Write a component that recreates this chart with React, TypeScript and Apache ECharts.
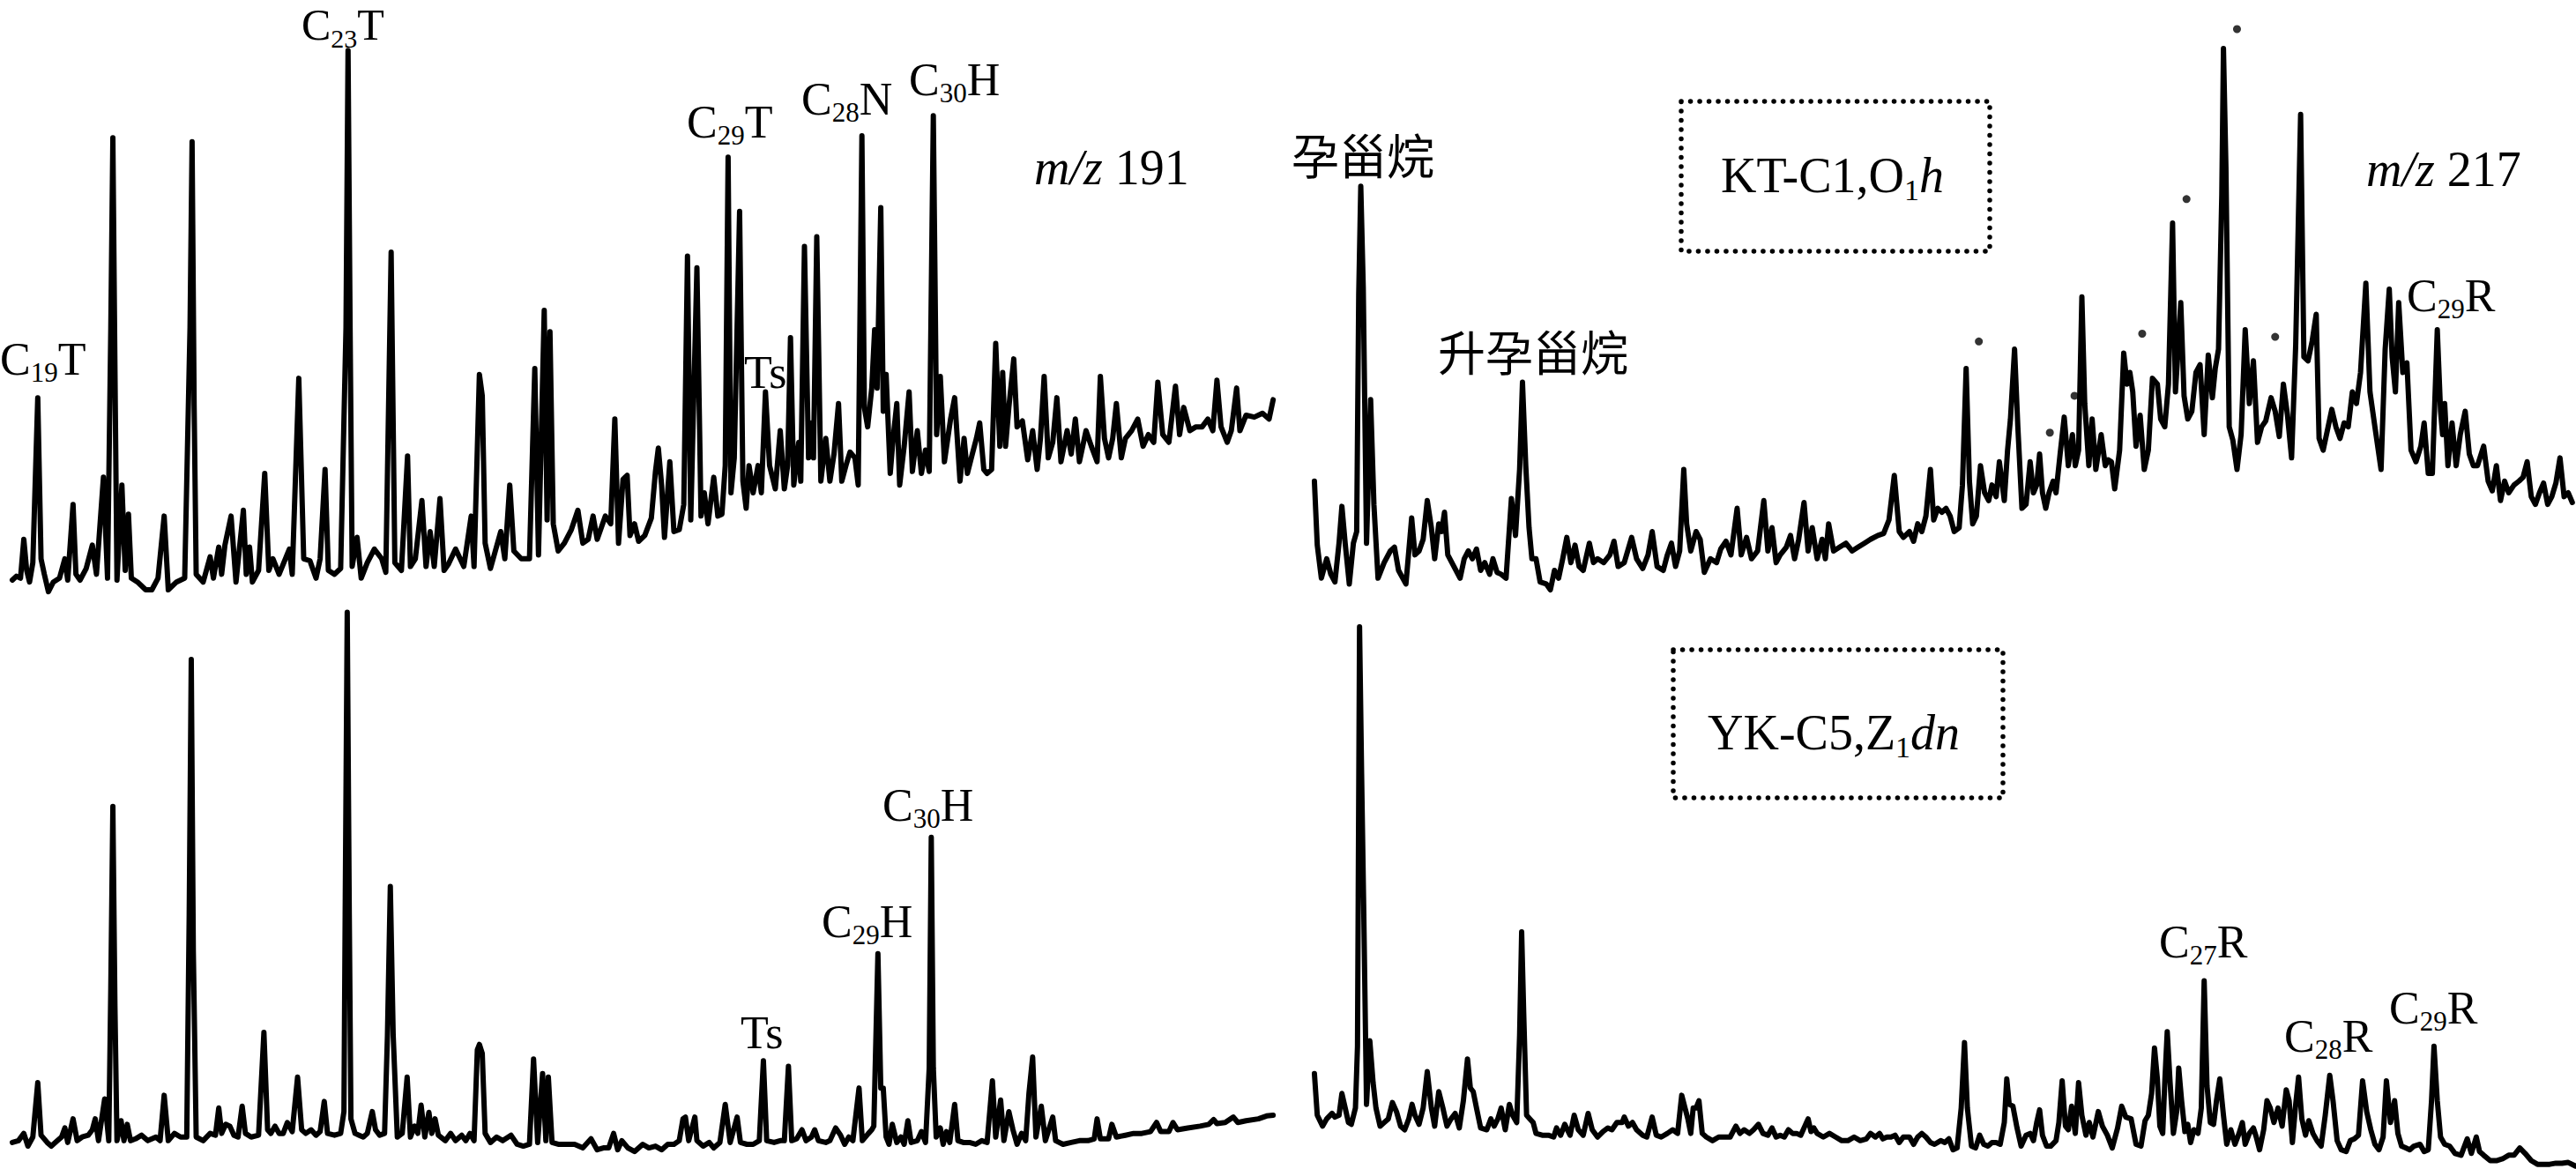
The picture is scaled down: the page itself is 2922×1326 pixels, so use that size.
import React, { useEffect, useRef } from "react";
import * as echarts from "echarts";

// m/z 191, sample KT-C1 (O1h): [retention, abundance]
const ktM191: number[][] = [
  [30,50],[40,60],[50,55],[58,155],[65,75],[72,45],[80,95],[92,520],[100,105],[108,65],[118,20],[130,45],[145,55],[158,105],[165,50],[178,245],[185,65],[195,50],[210,80],[225,140],[235,65],[252,315],[262,55],[270,700],[275,1190],[280,600],[285,50],[297,295],[305,75],[313,220],[320,55],[335,45],[355,25],[370,25],[385,55],[400,215],[410,25],[430,45],[450,55],[463,700],[468,1180],[473,500],[478,65],[495,45],[512,110],[520,55],[533,135],[540,65],[548,140],[563,215],[575,45],[593,230],[600,65],[608,135],[615,45],[630,75],[645,325],[655,75],[665,105],[680,65],[705,130],[712,65],[728,570],[740,105],[755,100],[770,55],[780,105],[792,335],[800,75],[815,65],[830,80],[843,700],[848,1415],[853,700],[858,85],[870,160],[880,55],[895,95],[912,130],[930,105],[940,70],[953,895],[962,95],[978,75],[993,370],[1000,85],[1012,105],[1028,255],[1038,85],[1048,175],[1058,85],[1072,260],[1082,75],[1092,90],[1110,130],[1130,85],[1148,215],[1155,85],[1168,580],[1175,525],[1182,145],[1195,80],[1220,175],[1230,105],[1242,295],[1252,125],[1270,105],[1290,105],[1303,595],[1312,115],[1326,745],[1333,205],[1340,690],[1348,195],[1360,125],[1375,145],[1392,180],[1408,230],[1420,145],[1433,155],[1445,215],[1455,155],[1475,215],[1488,195],[1498,465],[1507,145],[1518,310],[1528,320],[1535,165],
  [1546,195],[1556,150],[1571,165],[1587,210],[1597,330],[1604,390],[1612,295],[1619,160],[1632,355],[1642,175],[1655,180],[1666,245],[1675,885],[1683,205],[1698,855],[1708,215],[1716,275],[1725,195],[1739,315],[1749,215],[1759,220],[1767,345],[1774,1140],[1781,275],[1789,365],[1802,1000],[1810,305],[1818,235],[1825,345],[1835,275],[1847,345],[1855,275],[1865,535],[1875,345],[1889,285],[1901,435],[1911,285],[1919,345],[1926,675],[1934,295],[1946,405],[1951,305],[1960,910],[1970,365],[1977,455],[1982,365],[1990,935],[2000,305],[2012,415],[2022,305],[2032,375],[2043,505],[2051,305],[2061,345],[2071,380],[2083,365],[2091,295],[2100,1195],[2106,495],[2114,445],[2124,545],[2131,695],[2137,545],[2146,1010],[2152,485],[2159,580],[2169,325],[2176,415],[2185,505],[2192,295],[2203,395],[2215,535],[2223,330],[2235,435],[2245,325],[2255,385],[2264,330],[2274,1247],[2282,425],[2291,575],[2301,355],[2316,465],[2326,520],[2339,305],[2349,415],[2357,325],[2369,375],[2379,415],[2387,455],[2397,335],[2405,325],[2416,335],[2426,660],[2436,395],[2443,585],[2450,395],[2458,495],[2470,620],[2478,445],[2491,460],[2504,360],[2516,435],[2527,335],[2535,415],[2544,575],[2554,365],[2565,405],[2575,520],[2585,355],[2600,435],[2610,375],[2620,465],[2630,355],[2646,435],[2659,395],[2673,355],[2681,575],[2691,415],[2701,365],[2711,415],[2720,505],[2732,365],[2742,415],[2757,435],[2772,465],[2785,395],[2798,425],[2811,405],[2821,560],[2833,425],[2848,405],[2864,550],[2874,425],[2884,495],[2899,435],[2914,445],[2929,445],[2943,465],[2955,435],[2965,565],[2975,445],[2990,405],[3000,435],[3013,545],[3021,435],[3036,475],[3056,470],[3076,480],[3092,465],[3102,515]
];

// m/z 217, sample KT-C1 (O1h)
const ktM217: number[][] = [
  [45,305],[52,140],[62,55],[75,105],[85,65],[95,45],[105,145],[112,240],[120,145],[130,40],[140,145],[148,175],[153,785],[158,1065],[164,805],[172,145],[182,515],[190,245],[200,55],[215,95],[230,125],[240,135],[250,75],[268,40],[282,210],[290,115],[300,125],[310,155],[320,255],[330,185],[338,105],[348,195],[355,175],[362,225],[370,115],[385,85],[400,55],[410,105],[420,125],[430,105],[440,130],[450,75],[460,95],[472,65],[480,105],[490,70],[500,65],[512,55],[525,260],[535,165],[545,335],[552,560],[560,345],[568,185],[575,105],[585,105],[595,45],[610,40],[620,25],[630,75],[640,55],[650,105],[660,160],[670,95],[680,140],[690,85],[700,75],[715,145],[725,95],[735,105],[750,95],[765,115],[775,150],[785,85],[800,95],[818,160],[830,105],[845,80],[858,115],[868,175],[880,85],[895,75],[905,115],[915,145],[925,85],[935,125],[945,335],[952,195],[962,125],[975,175],[985,155],[995,70],[1010,105],[1025,95],[1035,130],[1048,150],[1060,115],[1075,235],[1085,115],[1098,160],[1110,105],[1125,125],[1140,255],[1150,125],[1160,185],[1170,95],[1180,115],[1195,135],[1205,165],[1215,105],[1225,155],[1238,250],[1248,125],[1258,185],[1270,105],[1282,155],[1290,105],[1298,195],[1310,125],[1325,135],[1340,145],[1355,125],[1370,135],[1385,145],[1400,155],[1418,165],[1432,170],[1445,205],[1458,320],[1470,175],[1480,160],[1495,175],[1505,150],[1515,195],[1525,175],[1535,215],
  [1546,335],[1554,205],[1564,235],[1574,225],[1584,235],[1594,215],[1604,175],[1616,185],[1624,295],[1633,595],[1641,305],[1649,195],[1658,215],[1668,345],[1678,275],[1688,255],[1696,295],[1706,265],[1714,355],[1726,255],[1734,385],[1741,465],[1751,645],[1759,445],[1769,235],[1779,245],[1789,355],[1797,275],[1805,295],[1812,375],[1819,275],[1827,235],[1835,275],[1845,305],[1852,275],[1862,375],[1872,470],[1882,345],[1892,425],[1899,345],[1907,385],[1915,780],[1922,505],[1932,345],[1940,465],[1949,335],[1962,425],[1972,345],[1979,360],[1987,355],[1995,285],[2007,385],[2017,635],[2025,555],[2032,585],[2039,535],[2047,395],[2057,475],[2067,335],[2077,385],[2087,570],[2099,555],[2107,465],[2117,445],[2126,555],[2136,970],[2143,535],[2150,655],[2156,765],[2164,525],[2173,465],[2183,485],[2193,585],[2203,605],[2213,425],[2223,630],[2233,520],[2240,595],[2248,645],[2256,1045],[2260,1420],[2266,1115],[2274,445],[2283,410],[2293,335],[2303,425],[2313,695],[2323,505],[2333,615],[2343,405],[2353,445],[2363,460],[2376,520],[2386,485],[2396,420],[2406,555],[2416,475],[2426,365],[2436,655],[2448,1250],[2456,625],[2466,615],[2476,665],[2486,735],[2493,415],[2503,385],[2513,435],[2524,490],[2534,445],[2544,415],[2554,455],[2564,445],[2574,535],[2584,505],[2594,585],[2607,815],[2617,535],[2629,445],[2644,335],[2654,645],[2664,800],[2671,625],[2679,535],[2687,765],[2697,585],[2707,610],[2717,385],[2729,355],[2741,395],[2749,455],[2759,325],[2769,325],[2781,695],[2789,485],[2794,425],[2799,505],[2807,345],[2817,455],[2827,345],[2837,425],[2849,485],[2859,375],[2869,345],[2879,345],[2894,395],[2905,305],[2915,280],[2925,345],[2935,255],[2945,305],[2955,275],[2968,295],[2980,305],[2990,315],[3000,355],[3010,265],[3020,245],[3030,275],[3040,300],[3050,245],[3060,265],[3070,300],[3080,365],[3090,265],[3100,275],[3110,250]
];

// peak markers (dots) on the KT-C1 m/z 217 trace
const ktM217Marks: number[][] = [
  [1664,665],[1837,430],[1897,525],[2062,685],[2170,1032],[2293,1470],[2386,677]
];

// m/z 191, sample YK-C5 (Z1dn)
const ykM191: number[][] = [
  [30,73],[45,78],[58,98],[68,63],[80,88],[92,238],[100,93],[115,73],[125,63],[140,78],[150,88],[158,113],[165,73],[178,138],[188,78],[200,88],[215,93],[225,108],[232,138],[240,78],[255,193],[265,78],[270,500],[275,998],[280,450],[285,78],[295,133],[302,78],[310,123],[318,78],[330,83],[345,93],[360,78],[380,88],[390,78],[400,203],[410,78],[425,98],[440,88],[455,88],[461,700],[466,1403],[471,600],[478,88],[495,78],[512,98],[525,93],[533,168],[540,98],[550,123],[560,118],[570,93],[580,88],[590,173],[598,98],[612,88],[630,93],[643,376],[652,108],[660,98],[670,118],[680,98],[690,98],[700,128],[712,103],[725,253],[735,108],[745,98],[758,108],[770,93],[780,103],[790,186],[798,98],[815,93],[830,98],[838,158],[841,700],[846,1533],[851,700],[855,138],[865,98],[875,93],[885,88],[895,98],[907,158],[915,108],[925,93],[937,98],[944,368],[951,778],[958,368],[968,88],[980,98],[992,253],[1000,88],[1010,118],[1018,98],[1026,176],[1035,88],[1045,156],[1052,98],[1060,138],[1068,93],[1085,78],[1098,98],[1110,78],[1125,93],[1135,78],[1145,98],[1155,78],[1163,328],[1168,343],[1175,318],[1182,98],[1195,73],[1210,88],[1225,78],[1245,93],[1260,68],[1275,63],[1290,68],[1300,303],[1310,73],[1322,263],[1330,78],[1336,253],[1345,73],[1360,68],[1380,68],[1400,68],[1420,58],[1440,83],[1455,53],[1470,58],[1483,58],[1495,98],[1505,53],[1515,78],[1530,58],
  [1546,48],[1566,68],[1581,58],[1597,63],[1612,53],[1627,68],[1642,68],[1655,78],[1664,138],[1670,143],[1678,78],[1693,143],[1698,78],[1713,63],[1728,73],[1739,58],[1754,73],[1767,178],[1779,73],[1796,143],[1804,73],[1820,68],[1835,68],[1850,78],[1860,298],[1868,78],[1886,73],[1901,78],[1911,78],[1921,283],[1929,78],[1941,83],[1954,108],[1964,78],[1977,88],[1985,108],[1994,78],[2012,73],[2022,78],[2036,113],[2048,93],[2058,68],[2068,88],[2078,78],[2093,223],[2101,78],[2116,98],[2124,108],[2129,118],[2139,593],[2146,223],[2152,223],[2159,88],[2166,68],[2174,123],[2185,73],[2195,88],[2203,68],[2212,133],[2220,73],[2235,78],[2245,103],[2255,73],[2264,278],[2269,913],[2274,278],[2281,88],[2291,113],[2298,68],[2306,103],[2314,73],[2326,178],[2334,78],[2347,73],[2362,73],[2377,68],[2392,78],[2405,73],[2418,243],[2426,88],[2438,190],[2446,78],[2458,158],[2468,108],[2478,68],[2489,98],[2499,78],[2507,208],[2516,308],[2524,88],[2537,173],[2547,78],[2565,143],[2572,78],[2590,68],[2610,73],[2630,78],[2651,78],[2666,83],[2673,138],[2681,83],[2701,83],[2709,123],[2720,88],[2742,93],[2762,98],[2782,98],[2803,103],[2818,128],[2828,103],[2848,103],[2858,128],[2869,108],[2894,113],[2924,118],[2945,123],[2957,136],[2965,125],[2985,128],[3005,143],[3016,128],[3036,133],[3066,138],[3086,146],[3102,148]
];

// m/z 217, sample YK-C5 (Z1dn)
const ykM217: number[][] = [
  [45,263],[52,148],[65,118],[75,138],[88,153],[95,143],[105,148],[112,208],[120,168],[128,128],[135,123],[145,168],[150,338],[155,1493],[160,1088],[165,728],[172,178],[180,353],[188,238],[195,168],[205,118],[215,128],[225,138],[235,183],[245,158],[255,118],[265,108],[275,138],[283,178],[290,148],[300,123],[310,168],[320,268],[330,168],[338,118],[348,213],[358,168],[368,118],[378,138],[388,153],[398,113],[408,188],[418,303],[425,223],[432,213],[440,168],[450,113],[465,108],[475,138],[483,118],[492,138],[500,168],[510,108],[520,178],[528,148],[538,128],[545,368],[550,653],[555,428],[562,148],[570,138],[578,128],[585,98],[600,93],[615,93],[628,88],[635,113],[645,93],[655,123],[668,93],[678,148],[688,108],[700,93],[712,153],[722,108],[735,88],[748,103],[760,113],[770,108],[782,128],[795,128],[800,143],[810,118],[820,128],[830,108],[845,93],[855,88],[868,143],[878,93],[890,88],[905,98],[918,108],[930,98],[940,203],[948,168],[955,138],[962,98],[968,168],[975,168],[982,188],[990,98],[1000,88],[1015,78],[1030,88],[1045,88],[1058,88],[1072,118],[1082,98],[1092,108],[1105,98],[1115,108],[1127,123],[1138,98],[1150,93],[1160,113],[1170,88],[1180,93],[1190,88],[1200,108],[1210,98],[1220,98],[1230,93],[1240,118],[1248,138],[1255,103],[1262,113],[1270,98],[1285,88],[1300,98],[1315,88],[1330,78],[1345,78],[1360,88],[1375,78],[1390,83],[1400,98],[1412,88],[1422,98],[1430,83],[1440,88],[1450,88],[1460,93],[1470,73],[1480,88],[1495,88],[1505,68],[1515,88],[1525,98],[1535,88],
  [1546,73],[1556,68],[1571,78],[1581,73],[1591,83],[1601,53],[1611,58],[1621,168],[1629,348],[1636,168],[1646,63],[1656,58],[1666,93],[1676,68],[1686,63],[1696,73],[1706,73],[1716,68],[1726,128],[1732,248],[1738,178],[1747,173],[1757,113],[1767,63],[1779,93],[1789,98],[1797,78],[1805,128],[1812,163],[1819,93],[1829,63],[1839,63],[1852,78],[1859,128],[1867,243],[1875,118],[1882,108],[1890,173],[1899,98],[1907,238],[1915,148],[1925,93],[1933,128],[1942,88],[1955,158],[1965,118],[1977,93],[1989,58],[2002,113],[2012,173],[2022,143],[2035,138],[2047,68],[2059,63],[2069,133],[2077,148],[2085,208],[2092,333],[2099,248],[2105,118],[2112,98],[2117,238],[2123,378],[2130,238],[2138,98],[2146,158],[2151,278],[2158,188],[2166,103],[2173,123],[2180,73],[2188,108],[2198,98],[2206,168],[2213,518],[2220,228],[2228,128],[2236,123],[2243,188],[2251,248],[2260,148],[2268,68],[2278,108],[2288,68],[2298,98],[2306,128],[2313,68],[2323,98],[2333,113],[2340,88],[2348,53],[2358,108],[2366,188],[2374,168],[2383,128],[2393,168],[2403,118],[2413,218],[2420,188],[2428,73],[2436,178],[2443,253],[2451,138],[2460,93],[2468,133],[2478,98],[2488,78],[2498,63],[2508,148],[2519,258],[2527,188],[2537,78],[2547,53],[2559,48],[2569,78],[2579,83],[2589,93],[2599,243],[2609,158],[2619,108],[2629,68],[2639,53],[2649,88],[2657,243],[2667,128],[2677,188],[2685,98],[2694,63],[2704,58],[2714,53],[2724,63],[2739,68],[2749,48],[2759,53],[2767,188],[2773,338],[2781,188],[2789,88],[2799,68],[2811,63],[2824,43],[2839,38],[2854,83],[2864,43],[2876,88],[2884,48],[2894,38],[2910,23],[2925,23],[2940,28],[2955,38],[2968,38],[2982,58],[2995,43],[3010,23],[3025,13],[3040,13],[3055,13],[3070,16],[3085,16],[3100,18],[3118,8]
];

const SERIF = '"Liberation Serif","Times New Roman",serif';
const CJK = '"Noto Sans CJK SC","Noto Sans CJK JP",sans-serif';

type Part = { t: string; sub?: boolean; it?: boolean };

function chem(x: number, baseline: number, parts: Part[], fs = 52) {
  const lh = Math.round(fs * 1.2);
  const subFs = Math.round(fs * 0.6);
  const subLh = Math.round(fs * 0.53);
  const text = parts
    .map((p) => `{${p.sub ? "s" : p.it ? "i" : "n"}|${p.t}}`)
    .join("");
  return {
    type: "text",
    x,
    y: baseline - lh / 2 - 0.3375 * fs,
    silent: true,
    style: {
      text,
      textAlign: "left",
      verticalAlign: "top",
      textVerticalAlign: "top",
      fill: "#000",
      font: `${fs}px ${SERIF}`,
      rich: {
        n: { fontFamily: SERIF, fontSize: fs, lineHeight: lh, verticalAlign: "middle", fill: "#000", color: "#000" },
        i: { fontFamily: SERIF, fontSize: fs, lineHeight: lh, verticalAlign: "middle", fontStyle: "italic", fill: "#000", color: "#000" },
        s: { fontFamily: SERIF, fontSize: subFs, lineHeight: subLh, verticalAlign: "bottom", fill: "#000", color: "#000" },
      },
    },
  };
}

function cjk(x: number, cy: number, t: string, fs = 54) {
  return {
    type: "text",
    x,
    y: cy,
    silent: true,
    style: {
      text: t,
      textAlign: "left",
      verticalAlign: "middle",
      textVerticalAlign: "middle",
      fill: "#000",
      font: `${fs}px ${CJK}`,
    },
  };
}

function dottedBox(x: number, y: number, w: number, h: number) {
  return {
    type: "rect",
    silent: true,
    shape: { x, y, width: w, height: h },
    style: {
      fill: "none",
      stroke: "#000",
      lineWidth: 5.5,
      lineDash: [0.1, 10.4],
      lineCap: "round",
    },
  };
}

export default function App() {
  const ref = useRef<HTMLDivElement>(null);
  useEffect(() => {
    document.body.style.margin = "0";
    if (!ref.current) return;
    const chart = echarts.init(ref.current, undefined, { renderer: "svg" });
    const grids = [
      { left: 0, top: 0, width: 1460, height: 680 },
      { left: 1470, top: 0, width: 1452, height: 680 },
      { left: 0, top: 680, width: 1460, height: 646 },
      { left: 1470, top: 680, width: 1452, height: 646 },
    ];
    const xMax = [3136, 3119, 3136, 3119];
    const yMax = [1545, 1545, 1568, 1568];
    const lineSeries = (data: number[][], i: number) => ({
      type: "line",
      xAxisIndex: i,
      yAxisIndex: i,
      data,
      showSymbol: false,
      symbol: "none",
      silent: true,
      clip: false,
      lineStyle: { color: "#000", width: 6, join: "round", cap: "round" },
    });
    const option: any = {
      animation: false,
      backgroundColor: "#fff",
      grid: grids.map((g) => ({ ...g, containLabel: false, show: false })),
      xAxis: grids.map((_, i) => ({
        type: "value",
        gridIndex: i,
        min: 0,
        max: xMax[i],
        show: false,
      })),
      yAxis: grids.map((_, i) => ({
        type: "value",
        gridIndex: i,
        min: 0,
        max: yMax[i],
        show: false,
      })),
      series: [
        lineSeries(ktM191, 0),
        lineSeries(ktM217, 1),
        lineSeries(ykM191, 2),
        lineSeries(ykM217, 3),
        {
          type: "scatter",
          xAxisIndex: 1,
          yAxisIndex: 1,
          data: ktM217Marks,
          symbol: "circle",
          symbolSize: 9,
          silent: true,
          itemStyle: { color: "#000" },
        },
      ],
      graphic: [
        // top-left, m/z 191 KT-C1
        chem(0, 425, [{ t: "C" }, { t: "19", sub: true }, { t: "T" }]),
        chem(342, 45, [{ t: "C" }, { t: "23", sub: true }, { t: "T" }], 50),
        chem(779, 156, [{ t: "C" }, { t: "29", sub: true }, { t: "T" }]),
        chem(844, 440, [{ t: "Ts" }]),
        chem(909, 130, [{ t: "C" }, { t: "28", sub: true }, { t: "N" }]),
        chem(1031, 108, [{ t: "C" }, { t: "30", sub: true }, { t: "H" }]),
        chem(1173, 209, [{ t: "m/z", it: true }, { t: " 191" }], 56),
        // top-right, m/z 217 KT-C1
        cjk(1465, 174, "孕甾烷"),
        cjk(1631, 397, "升孕甾烷"),
        dottedBox(1907, 115, 350, 170),
        chem(1952, 218, [{ t: "KT-C1,O" }, { t: "1", sub: true }, { t: "h", it: true }], 56),
        chem(2684, 211, [{ t: "m/z", it: true }, { t: " 217" }], 56),
        chem(2730, 353, [{ t: "C" }, { t: "29", sub: true }, { t: "R" }]),
        // bottom-left, m/z 191 YK-C5
        chem(840, 1189, [{ t: "Ts" }]),
        chem(932, 1063, [{ t: "C" }, { t: "29", sub: true }, { t: "H" }]),
        chem(1001, 931, [{ t: "C" }, { t: "30", sub: true }, { t: "H" }]),
        // bottom-right, m/z 217 YK-C5
        dottedBox(1898, 737, 374, 168),
        chem(1937, 850, [{ t: "YK-C5,Z" }, { t: "1", sub: true }, { t: "dn", it: true }], 56),
        chem(2449, 1086, [{ t: "C" }, { t: "27", sub: true }, { t: "R" }]),
        chem(2591, 1193, [{ t: "C" }, { t: "28", sub: true }, { t: "R" }]),
        chem(2710, 1161, [{ t: "C" }, { t: "29", sub: true }, { t: "R" }]),
      ],
    };
    chart.setOption(option);
    return () => chart.dispose();
  }, []);
  return (
    <div
      ref={ref}
      style={{ position: "absolute", left: 0, top: 0, width: 2922, height: 1326, background: "#fff" }}
    />
  );
}
